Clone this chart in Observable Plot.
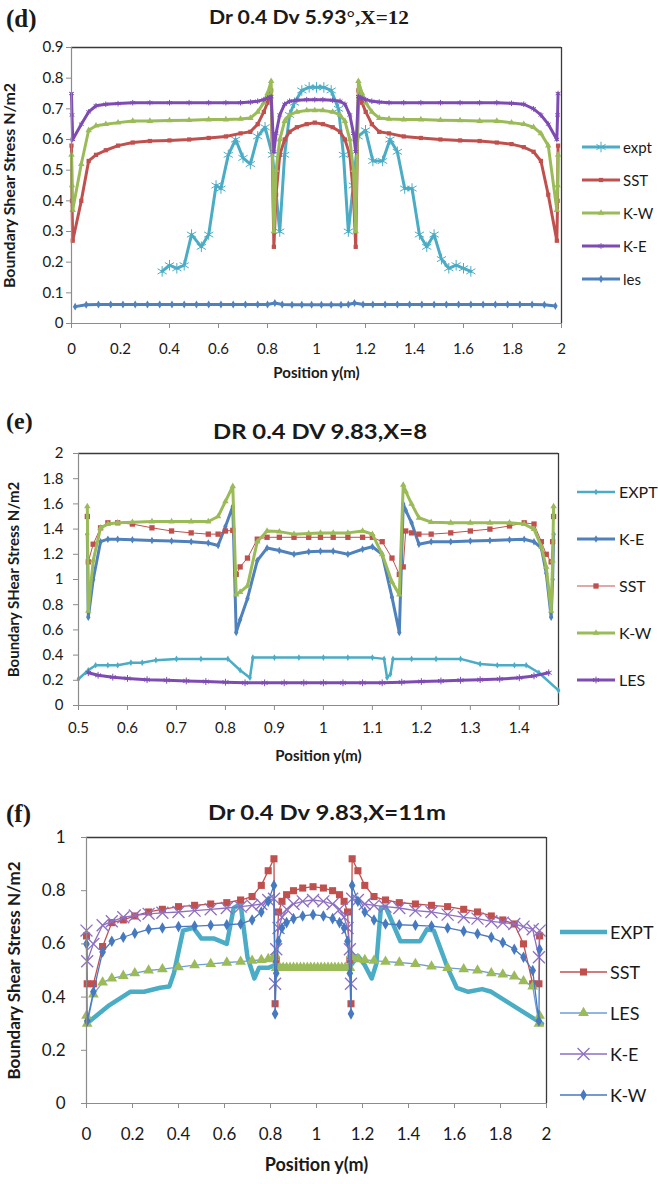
<!DOCTYPE html>
<html>
<head>
<meta charset="utf-8">
<script src="https://cdn.jsdelivr.net/npm/d3@7"></script>
<script src="https://cdn.jsdelivr.net/npm/@observablehq/plot@0.6"></script>
<style>
  html, body { margin: 0; padding: 0; background: #fff; overflow: hidden; }
  #root { position: relative; width: 658px; height: 1184px; overflow: hidden; font-family: Lato, "Open Sans", sans-serif; color: #1a1a1a; }
  #root svg { overflow: visible; }
  .lbl { position: absolute; white-space: nowrap; line-height: 1; }
  .center { transform: translate(-50%, -50%); }
  .vmid { transform: translateY(-50%); }
  .serif { font-family: "Liberation Serif", "DejaVu Serif", serif; font-weight: bold; }
</style>
</head>
<body>
<div id="root"></div>
<script>
// ---------------- Panel (d) : Dr 0.4 Dv 5.93°, X=12 ----------------
const dXDomain = [0, 2];
const dYDomain = [0, 0.9];
const dXTicks = [0, 0.2, 0.4, 0.6, 0.8, 1, 1.2, 1.4, 1.6, 1.8, 2];
const dYTicks = [0, 0.1, 0.2, 0.3, 0.4, 0.5, 0.6, 0.7, 0.8, 0.9];
const dGrid = [0, 0.002, 0.005, 0.04, 0.07, 0.10, 0.14, 0.19, 0.25, 0.32,
  0.40, 0.48, 0.56, 0.63, 0.69, 0.73, 0.76, 0.785, 0.80, 0.815,
  0.826, 0.835, 0.85, 0.87, 0.89, 0.92, 0.96, 0.993, 1.026, 1.066,
  1.096, 1.116, 1.136, 1.151, 1.16, 1.171, 1.186, 1.201, 1.226, 1.256,
  1.296, 1.356, 1.426, 1.506, 1.586, 1.666, 1.736, 1.796, 1.846, 1.886,
  1.916, 1.946, 1.981, 1.984, 1.986];
const dSST = [0.58, 0.40, 0.27, 0.40, 0.53, 0.55, 0.565, 0.58, 0.59, 0.595,
  0.597, 0.60, 0.605, 0.61, 0.62, 0.625, 0.65, 0.69, 0.72, 0.76,
  0.25, 0.42, 0.55, 0.60, 0.625, 0.64, 0.65, 0.655, 0.65, 0.64,
  0.625, 0.60, 0.55, 0.42, 0.25, 0.76, 0.72, 0.69, 0.65, 0.625,
  0.62, 0.61, 0.605, 0.60, 0.597, 0.595, 0.59, 0.585, 0.575, 0.56,
  0.53, 0.42, 0.27, 0.40, 0.58];
const dKW = [0.55, 0.45, 0.37, 0.52, 0.63, 0.645, 0.65, 0.655, 0.66, 0.66,
  0.662, 0.663, 0.665, 0.665, 0.667, 0.67, 0.69, 0.72, 0.75, 0.79,
  0.30, 0.50, 0.60, 0.66, 0.68, 0.69, 0.695, 0.695, 0.695, 0.69,
  0.68, 0.66, 0.60, 0.50, 0.30, 0.79, 0.75, 0.72, 0.69, 0.67,
  0.667, 0.665, 0.665, 0.663, 0.662, 0.66, 0.66, 0.655, 0.65, 0.64,
  0.62, 0.58, 0.37, 0.45, 0.55];
const dKE = [0.75, 0.68, 0.60, 0.65, 0.69, 0.71, 0.715, 0.717, 0.72, 0.72,
  0.72, 0.72, 0.72, 0.72, 0.72, 0.722, 0.725, 0.73, 0.735, 0.74,
  0.56, 0.62, 0.68, 0.715, 0.725, 0.728, 0.73, 0.73, 0.73, 0.728,
  0.725, 0.715, 0.68, 0.62, 0.56, 0.74, 0.735, 0.73, 0.725, 0.722,
  0.72, 0.72, 0.72, 0.72, 0.72, 0.72, 0.72, 0.718, 0.715, 0.70,
  0.68, 0.65, 0.60, 0.68, 0.75];
const dLesX = [0.015, 0.06, 0.11, 0.16, 0.21, 0.26, 0.31, 0.36, 0.41, 0.46,
  0.51, 0.56, 0.61, 0.66, 0.71, 0.76, 0.80, 0.83, 0.86, 0.90,
  0.94, 0.98, 1.02, 1.06, 1.10, 1.13, 1.155, 1.19, 1.23, 1.28,
  1.33, 1.38, 1.43, 1.48, 1.53, 1.58, 1.63, 1.68, 1.73, 1.78,
  1.83, 1.88, 1.93, 1.975];
const dLesY = [0.055, 0.061, 0.062, 0.062, 0.062, 0.062, 0.062, 0.062, 0.062, 0.062,
  0.062, 0.062, 0.062, 0.062, 0.062, 0.062, 0.062, 0.067, 0.062, 0.061,
  0.061, 0.061, 0.061, 0.061, 0.061, 0.062, 0.067, 0.062, 0.062, 0.062,
  0.062, 0.062, 0.062, 0.062, 0.062, 0.062, 0.062, 0.062, 0.062, 0.062,
  0.062, 0.062, 0.061, 0.057];
const dExptX = [0.37, 0.40, 0.43, 0.46, 0.49, 0.53, 0.56, 0.59, 0.61, 0.64,
  0.67, 0.70, 0.73, 0.76, 0.79, 0.82, 0.85, 0.87, 0.89, 0.91,
  0.94, 0.97, 1.00, 1.03, 1.06, 1.09, 1.11, 1.13, 1.15, 1.17,
  1.20, 1.23, 1.27, 1.30, 1.33, 1.36, 1.39, 1.42, 1.45, 1.48,
  1.51, 1.54, 1.57, 1.60, 1.63];
const dExptY = [0.17, 0.19, 0.18, 0.19, 0.29, 0.25, 0.29, 0.45, 0.44, 0.55,
  0.60, 0.54, 0.52, 0.61, 0.64, 0.55, 0.30, 0.55, 0.68, 0.72,
  0.76, 0.77, 0.77, 0.77, 0.76, 0.70, 0.55, 0.30, 0.45, 0.61,
  0.63, 0.53, 0.53, 0.60, 0.56, 0.44, 0.44, 0.29, 0.25, 0.29,
  0.21, 0.18, 0.19, 0.18, 0.17];

// ---------------- Panel (e) : DR 0.4 DV 9.83, X=8 ----------------
const eXDomain = [0.5, 1.48];
const eYDomain = [0, 2];
const eXTicks = [0.5, 0.6, 0.7, 0.8, 0.9, 1, 1.1, 1.2, 1.3, 1.4];
const eYTicks = [0, 0.2, 0.4, 0.6, 0.8, 1, 1.2, 1.4, 1.6, 1.8, 2];
const eGrid = [0.518, 0.52, 0.53, 0.545, 0.56, 0.58, 0.61, 0.65, 0.69, 0.73,
  0.765, 0.785, 0.80, 0.815, 0.822, 0.83, 0.845, 0.865, 0.885, 0.91,
  0.94, 0.97, 0.994, 1.02, 1.05, 1.08, 1.10, 1.12, 1.14, 1.155,
  1.163, 1.168, 1.18, 1.195, 1.22, 1.26, 1.30, 1.34, 1.38, 1.41,
  1.43, 1.445, 1.455, 1.465, 1.468, 1.47];
const eKW = [1.58, 0.75, 1.15, 1.41, 1.44, 1.45, 1.455, 1.46, 1.46, 1.46,
  1.46, 1.50, 1.62, 1.74, 0.88, 0.90, 0.95, 1.30, 1.385, 1.38,
  1.36, 1.365, 1.37, 1.37, 1.37, 1.385, 1.36, 1.20, 0.98, 0.88,
  1.75, 1.70, 1.60, 1.49, 1.455, 1.45, 1.45, 1.45, 1.45, 1.44,
  1.40, 1.26, 1.10, 0.75, 1.15, 1.58];
const eKE = [1.36, 0.70, 1.00, 1.30, 1.32, 1.32, 1.315, 1.31, 1.305, 1.30,
  1.29, 1.27, 1.42, 1.58, 0.58, 0.68, 0.85, 1.15, 1.25, 1.23,
  1.20, 1.22, 1.225, 1.225, 1.20, 1.24, 1.26, 1.20, 0.86, 0.58,
  1.60, 1.55, 1.45, 1.28, 1.30, 1.30, 1.305, 1.31, 1.315, 1.32,
  1.30, 1.25, 1.05, 0.70, 1.00, 1.36];
const eSST = [1.50, 1.14, 1.28, 1.41, 1.45, 1.45, 1.44, 1.41, 1.385, 1.37,
  1.36, 1.36, 1.385, 1.39, 1.04, 1.10, 1.17, 1.32, 1.335, 1.335,
  1.335, 1.335, 1.335, 1.335, 1.335, 1.335, 1.335, 1.30, 1.17, 1.04,
  1.10, 1.385, 1.37, 1.36, 1.36, 1.37, 1.385, 1.40, 1.425, 1.45,
  1.44, 1.30, 1.20, 1.14, 1.30, 1.50];
const eExptX = [0.50, 0.52, 0.535, 0.56, 0.58, 0.607, 0.63, 0.658, 0.70, 0.75,
  0.805, 0.83, 0.85, 0.856, 0.90, 0.95, 1.00, 1.05, 1.10, 1.124,
  1.13, 1.137, 1.142, 1.18, 1.23, 1.28, 1.32, 1.355, 1.39, 1.414,
  1.44, 1.48];
const eExptY = [0.21, 0.28, 0.32, 0.32, 0.32, 0.34, 0.34, 0.36, 0.37, 0.37,
  0.37, 0.28, 0.22, 0.38, 0.38, 0.38, 0.38, 0.38, 0.38, 0.37,
  0.22, 0.25, 0.37, 0.37, 0.37, 0.37, 0.33, 0.32, 0.32, 0.32,
  0.26, 0.12];
const eLesX = [0.52, 0.54, 0.57, 0.60, 0.64, 0.68, 0.72, 0.76, 0.80, 0.84,
  0.88, 0.92, 0.96, 1.00, 1.04, 1.08, 1.12, 1.16, 1.20, 1.24,
  1.28, 1.32, 1.36, 1.40, 1.43, 1.46];
const eLesY = [0.26, 0.24, 0.225, 0.215, 0.205, 0.20, 0.195, 0.19, 0.185, 0.18,
  0.18, 0.18, 0.18, 0.18, 0.18, 0.18, 0.18, 0.185, 0.19, 0.195,
  0.20, 0.205, 0.21, 0.22, 0.235, 0.26];

// ---------------- Panel (f) : Dr 0.4 Dv 9.83, X=11m ----------------
const fXDomain = [0, 2];
const fYDomain = [0, 1];
const fXTicks = [0, 0.2, 0.4, 0.6, 0.8, 1, 1.2, 1.4, 1.6, 1.8, 2];
const fYTicks = [0, 0.2, 0.4, 0.6, 0.8, 1];
const fGrid = [0, 0.003, 0.03, 0.07, 0.11, 0.16, 0.21, 0.27, 0.33, 0.40,
  0.47, 0.54, 0.61, 0.67, 0.72, 0.76, 0.79, 0.815, 0.82, 0.825,
  0.835, 0.85, 0.87, 0.90, 0.94, 0.985, 1.03, 1.07, 1.10, 1.12,
  1.135, 1.145, 1.15, 1.155, 1.18, 1.21, 1.25, 1.30, 1.36, 1.43,
  1.50, 1.57, 1.64, 1.70, 1.76, 1.81, 1.86, 1.90, 1.94, 1.967,
  1.97];
const fSST = [0.63, 0.45, 0.45, 0.59, 0.68, 0.69, 0.705, 0.72, 0.73, 0.74,
  0.745, 0.75, 0.755, 0.765, 0.778, 0.82, 0.875, 0.92, 0.375, 0.54,
  0.72, 0.76, 0.785, 0.80, 0.81, 0.815, 0.81, 0.80, 0.785, 0.76,
  0.72, 0.54, 0.375, 0.92, 0.875, 0.82, 0.778, 0.765, 0.755, 0.75,
  0.745, 0.74, 0.73, 0.72, 0.705, 0.69, 0.675, 0.60, 0.45, 0.45,
  0.63];
const fKW = [0.60, 0.31, 0.42, 0.57, 0.61, 0.625, 0.64, 0.655, 0.66, 0.665,
  0.667, 0.67, 0.672, 0.675, 0.69, 0.72, 0.76, 0.82, 0.337, 0.49,
  0.61, 0.66, 0.68, 0.695, 0.705, 0.71, 0.705, 0.695, 0.68, 0.66,
  0.61, 0.49, 0.337, 0.82, 0.76, 0.72, 0.69, 0.675, 0.672, 0.67,
  0.667, 0.66, 0.648, 0.638, 0.625, 0.605, 0.58, 0.55, 0.50, 0.31,
  0.58];
const fKE = [0.65, 0.535, 0.60, 0.67, 0.685, 0.70, 0.707, 0.713, 0.717, 0.72,
  0.725, 0.73, 0.735, 0.74, 0.745, 0.75, 0.765, 0.77, 0.45, 0.58,
  0.66, 0.70, 0.73, 0.75, 0.76, 0.765, 0.76, 0.75, 0.73, 0.70,
  0.66, 0.58, 0.45, 0.77, 0.765, 0.75, 0.745, 0.74, 0.735, 0.725,
  0.72, 0.71, 0.70, 0.695, 0.685, 0.68, 0.675, 0.665, 0.655, 0.55,
  0.65];
const fLesX = [0, 0.003, 0.03, 0.07, 0.11, 0.16, 0.21, 0.27, 0.33, 0.40,
  0.47, 0.54, 0.61, 0.67, 0.72, 0.76, 0.79, 0.815, 0.82, 0.825,
  0.84, 0.855, 0.87, 0.885, 0.90, 0.915, 0.93, 0.945, 0.96, 0.975,
  0.99, 1.005, 1.02, 1.035, 1.05, 1.065, 1.08, 1.095, 1.11, 1.125,
  1.14, 1.145, 1.15, 1.155, 1.18, 1.21, 1.25, 1.30, 1.36, 1.43,
  1.50, 1.57, 1.64, 1.70, 1.76, 1.81, 1.86, 1.90, 1.94, 1.967,
  1.97];
const fLesY = [0.33, 0.30, 0.41, 0.455, 0.47, 0.48, 0.49, 0.50, 0.505, 0.513,
  0.52, 0.525, 0.53, 0.533, 0.537, 0.54, 0.543, 0.55, 0.56, 0.51,
  0.51, 0.51, 0.51, 0.51, 0.51, 0.51, 0.51, 0.51, 0.51, 0.51,
  0.51, 0.51, 0.51, 0.51, 0.51, 0.51, 0.51, 0.51, 0.51, 0.51,
  0.51, 0.51, 0.56, 0.55, 0.543, 0.54, 0.537, 0.533, 0.53, 0.525,
  0.515, 0.51, 0.505, 0.50, 0.49, 0.485, 0.478, 0.46, 0.44, 0.30,
  0.33];
const fExptX = [0, 0.10, 0.19, 0.25, 0.32, 0.36, 0.38, 0.42, 0.465, 0.50,
  0.555, 0.61, 0.64, 0.67, 0.70, 0.73, 0.75, 0.79, 0.82, 0.90,
  1.00, 1.10, 1.15, 1.18, 1.21, 1.24, 1.26, 1.28, 1.30, 1.365,
  1.45, 1.48, 1.51, 1.57, 1.61, 1.66, 1.72, 1.76, 1.98];
const fExptY = [0.30, 0.37, 0.42, 0.42, 0.435, 0.44, 0.49, 0.65, 0.66, 0.62,
  0.62, 0.60, 0.735, 0.75, 0.55, 0.47, 0.51, 0.51, 0.52, 0.51,
  0.51, 0.51, 0.52, 0.555, 0.52, 0.47, 0.525, 0.735, 0.74, 0.61,
  0.61, 0.655, 0.65, 0.51, 0.435, 0.42, 0.43, 0.42, 0.30];

// ---------------- styling ----------------
const FONT = 'Lato, "Open Sans", sans-serif';
const AQUA = "#4BACC6", RED = "#C0504D", GREEN = "#9BBB59", PURPLE = "#7E4BB3",
      BLUE = "#4F81BD", KWBLUE = "#4679C0", LESBLUE = "#6F9ED6", KEPURPLE = "#8E6FC2";

const root = document.getElementById("root");
function place(el, left, top, cls) {
  el.style.position = "absolute";
  el.style.left = left + "px";
  el.style.top = top + "px";
  if (cls) el.className = cls;
  root.appendChild(el);
  return el;
}
function textAt(html, x, y, css, cls) {
  const d = document.createElement("div");
  d.innerHTML = html;
  d.style.cssText = css;
  place(d, x, y, "lbl " + cls);
  return d;
}
// stretch a centred title horizontally to the width it spans in the figure
function fitTitle(el, target) {
  const w = el.getBoundingClientRect().width;
  const k = w > 0 ? target / w : 1;
  el.style.transform = `translate(-50%, -50%) scaleX(${k})`;
}
const fmt = d => String(d);
const rows = (xs, ys) => xs.map((x, i) => ({x, y: ys[i]}));
const STROKED = new Set(["asterisk", "times", "plus", "cross"]);

function seriesMarks(data, s) {
  const m = [Plot.line(data, {x: "x", y: "y", stroke: s.color, strokeWidth: s.width, strokeLinejoin: "round", strokeLinecap: "round"})];
  if (s.symbol) {
    const stroked = STROKED.has(s.symbol);
    m.push(Plot.dot(data, {
      x: "x", y: "y", symbol: s.symbol, r: s.r,
      fill: stroked ? "none" : (s.symFill || s.color),
      stroke: stroked ? (s.symColor || s.color) : "none",
      strokeWidth: s.symWidth || 1.2
    }));
  }
  return m;
}

function chart(o) {
  return Plot.plot({
    width: 658, height: o.height,
    marginLeft: o.ml, marginRight: o.mr, marginTop: o.mt, marginBottom: o.mb,
    x: {domain: o.xDomain},
    y: {domain: o.yDomain},
    style: {fontFamily: FONT, fontSize: o.fontSize + "px", color: "#1a1a1a", background: "transparent", overflow: "visible"},
    marks: [
      Plot.ruleY([o.yDomain[1]], {stroke: "#3a3a3a", strokeWidth: 1.3}),
      Plot.ruleX([o.xDomain[1]], {stroke: "#3a3a3a", strokeWidth: 1.3}),
      ...o.series.flatMap(s => seriesMarks(s.data, s)),
      Plot.ruleY([o.yDomain[0]], {stroke: "#8c8c8c", strokeWidth: 1.2}),
      Plot.ruleX([o.xDomain[0]], {stroke: "#8c8c8c", strokeWidth: 1.2}),
      Plot.axisX(o.xTicks, {tickSize: 5, tickPadding: o.xPad, stroke: "#8c8c8c", label: null, fontSize: o.fontSize, tickFormat: fmt}),
      Plot.axisY(o.yTicks, {tickSize: 5, tickPadding: o.yPad, stroke: "#8c8c8c", label: null, fontSize: o.fontSize, tickFormat: fmt}),
      Plot.text([o.xTitle], {text: d => d, frameAnchor: "bottom", textAnchor: "middle", dy: o.xTitleDy, fontWeight: "bold", fontSize: o.xTitleSize}),
      Plot.text([o.yTitle], {text: d => d, frameAnchor: "left", textAnchor: "middle", dx: o.yTitleDx, rotate: -90, fontWeight: "bold", fontSize: o.yTitleSize})
    ]
  });
}

const SYM = {asterisk: d3.symbolAsterisk, square: d3.symbolSquare, triangle: d3.symbolTriangle,
             diamond: d3.symbolDiamond, times: d3.symbolTimes, circle: d3.symbolCircle};
function legend(items, o) {
  items.forEach((it, i) => {
    const y = o.ys[i];
    const svg = d3.create("svg").attr("width", o.lineLen).attr("height", 20);
    svg.append("line").attr("x1", 0).attr("x2", o.lineLen).attr("y1", 10).attr("y2", 10)
      .attr("stroke", it.color).attr("stroke-width", it.width);
    if (it.symbol) {
      const stroked = STROKED.has(it.symbol);
      svg.append("path").attr("transform", `translate(${o.lineLen / 2},10)`)
        .attr("d", d3.symbol(SYM[it.symbol], Math.PI * it.r * it.r)())
        .attr("fill", stroked ? "none" : (it.symFill || it.color))
        .attr("stroke", stroked ? (it.symColor || it.color) : "none")
        .attr("stroke-width", it.symWidth || 1.2);
    }
    place(svg.node(), o.left, y - 10);
    textAt(it.label, o.textLeft, y, `font-size:${o.fontSize}px;`, "vmid");
  });
}

// ---------- Panel d ----------
const dSeries = [
  {label: "expt", data: rows(dExptX, dExptY), color: AQUA, width: 3, symbol: "asterisk", r: 5, symWidth: 1},
  {label: "SST", data: rows(dGrid, dSST), color: RED, width: 3, symbol: "square", r: 2.4},
  {label: "K-W", data: rows(dGrid, dKW), color: GREEN, width: 3, symbol: "triangle", r: 2.4},
  {label: "K-E", data: rows(dGrid, dKE), color: PURPLE, width: 3, symbol: "asterisk", r: 2.6, symWidth: 1},
  {label: "les", data: rows(dLesX, dLesY), color: BLUE, width: 3, symbol: "diamond", r: 2.4}
];
place(chart({
  height: 395, ml: 71, mr: 658 - 561, mt: 47, mb: 395 - 323,
  xDomain: dXDomain, yDomain: dYDomain, xTicks: dXTicks, yTicks: dYTicks,
  fontSize: 15, xPad: 15, yPad: 3, series: dSeries,
  xTitle: "Position y(m)", yTitle: "Boundary Shear Stress N/m2",
  xTitleSize: 15, yTitleSize: 16, xTitleDy: 54, yTitleDx: -62
}), 0, 0);
textAt("(d)", 6, 18, "font-size:25px;", "serif vmid");
fitTitle(textAt('Dr 0.4 Dv 5.93<span class="serif">°,X=12</span>', 309, 17, "font-size:19px;font-weight:bold;", "center"), 200);
legend(dSeries, {left: 582, textLeft: 623, lineLen: 38, fontSize: 15, ys: [147, 180, 213, 246, 279]});

// ---------- Panel e ----------
const eSeries = [
  {label: "EXPT", data: rows(eExptX, eExptY), color: AQUA, width: 2.5, symbol: "diamond", r: 2},
  {label: "K-E", data: rows(eGrid, eKE), color: BLUE, width: 3, symbol: "diamond", r: 2.3},
  {label: "SST", data: rows(eGrid, eSST), color: RED, width: 1, symbol: "square", r: 3},
  {label: "K-W", data: rows(eGrid, eKW), color: GREEN, width: 3, symbol: "triangle", r: 2.4},
  {label: "LES", data: rows(eLesX, eLesY), color: PURPLE, width: 3, symbol: "asterisk", r: 3.2, symWidth: 1}
];
place(chart({
  height: 385, ml: 78, mr: 658 - 558, mt: 453 - 395, mb: 780 - 705,
  xDomain: eXDomain, yDomain: eYDomain, xTicks: eXTicks, yTicks: eYTicks,
  fontSize: 15, xPad: 12, yPad: 10, series: eSeries,
  xTitle: "Position y(m)", yTitle: "Boundary SHear Stress N/m2",
  xTitleSize: 15, yTitleSize: 15, xTitleDy: 55, yTitleDx: -64
}), 0, 395);
textAt("(e)", 6, 421, "font-size:24px;", "serif vmid");
fitTitle(textAt("DR 0.4 DV 9.83,X=8", 320, 430, "font-size:21px;font-weight:bold;", "center"), 214);
legend(eSeries, {left: 577, textLeft: 619, lineLen: 38, fontSize: 16, ys: [492, 539, 586, 633, 680]});

// ---------- Panel f ----------
const fSeries = [
  {label: "EXPT", data: rows(fExptX, fExptY), color: AQUA, width: 4.5},
  {label: "SST", data: rows(fGrid, fSST), color: RED, width: 1.3, symbol: "square", r: 4},
  {label: "LES", data: rows(fLesX, fLesY), color: LESBLUE, width: 1.3, symbol: "triangle", r: 4, symFill: GREEN},
  {label: "K-E", data: rows(fGrid, fKE), color: KEPURPLE, width: 1.3, symbol: "times", r: 5.5, symWidth: 1.3},
  {label: "K-W", data: rows(fGrid, fKW), color: KWBLUE, width: 1.3, symbol: "diamond", r: 3.5}
];
place(chart({
  height: 404, ml: 86, mr: 658 - 546, mt: 837 - 780, mb: 1184 - 1103,
  xDomain: fXDomain, yDomain: fYDomain, xTicks: fXTicks, yTicks: fYTicks,
  fontSize: 17, xPad: 19, yPad: 16, series: fSeries,
  xTitle: "Position y(m)", yTitle: "Boundary Shear Stress N/m2",
  xTitleSize: 18, yTitleSize: 17, xTitleDy: 67, yTitleDx: -72
}), 0, 780);
textAt("(f)", 6, 813, "font-size:25px;", "serif vmid");
fitTitle(textAt("Dr 0.4 Dv 9.83,X=11m", 327, 811, "font-size:21px;font-weight:bold;", "center"), 238);
legend(fSeries, {left: 560, textLeft: 610, lineLen: 47, fontSize: 18, ys: [932, 972, 1013, 1054, 1095]});
</script>
</body>
</html>
